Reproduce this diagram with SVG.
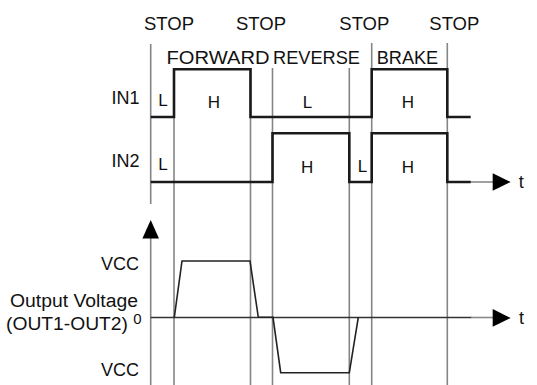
<svg xmlns="http://www.w3.org/2000/svg" width="537" height="385" viewBox="0 0 537 385">
<style>
text{font-family:"Liberation Sans",Arial,sans-serif;fill:#111}
.lbl{font-size:18px}
.lv{font-size:17px}
.grid{stroke:#858585;stroke-width:1.6;fill:none}
.sig{stroke:#1a1a1a;stroke-width:2.6;fill:none;stroke-linejoin:miter}
.out{stroke:#222;stroke-width:1.6;fill:none}
.axis{stroke:#333;stroke-width:1.4;fill:none}
.axisg{stroke:#8a8a8a;stroke-width:1.6;fill:none}
.head{fill:#000}
</style>
<rect width="537" height="385" fill="#fff"/>
<g id="grid">
<line class="grid" x1="150.7" y1="44" x2="150.7" y2="204"/>
<line class="grid" x1="174" y1="68" x2="174" y2="385"/>
<line class="grid" x1="250.5" y1="68" x2="250.5" y2="385"/>
<line class="grid" x1="272.5" y1="68" x2="272.5" y2="385"/>
<line class="grid" x1="349.3" y1="68" x2="349.3" y2="385"/>
<line class="grid" x1="371.7" y1="43" x2="371.7" y2="385"/>
<line class="grid" x1="447.3" y1="43" x2="447.3" y2="385"/>
</g>
<g id="labels-top">
<text class="lbl" x="144" y="29.5" textLength="50" lengthAdjust="spacingAndGlyphs">STOP</text>
<text class="lbl" x="236" y="29.5" textLength="50" lengthAdjust="spacingAndGlyphs">STOP</text>
<text class="lbl" x="339.3" y="29.5" textLength="50" lengthAdjust="spacingAndGlyphs">STOP</text>
<text class="lbl" x="429.3" y="29.5" textLength="50" lengthAdjust="spacingAndGlyphs">STOP</text>
<text class="lbl" x="166.5" y="63.5" font-size="19" textLength="103" lengthAdjust="spacingAndGlyphs">FORWARD</text>
<text class="lbl" x="273" y="63.5" font-size="19" textLength="87" lengthAdjust="spacingAndGlyphs">REVERSE</text>
<text class="lbl" x="376.7" y="63.5" font-size="19" textLength="61.5" lengthAdjust="spacingAndGlyphs">BRAKE</text>
</g>
<g id="in1">
<text class="lbl" x="139.5" y="104" text-anchor="end">IN1</text>
<path class="sig" d="M150.7,117 H174 V69.3 H250.5 V117 H371.7 V69.3 H447.3 V117 H470.7"/>
<text class="lv" x="158.3" y="106">L</text>
<text class="lv" x="207.7" y="108.3">H</text>
<text class="lv" x="302.7" y="108.3">L</text>
<text class="lv" x="401.7" y="108.3">H</text>
</g>
<g id="in2">
<text class="lbl" x="139.5" y="167.3" text-anchor="end">IN2</text>
<line class="axisg" x1="470" y1="182" x2="494" y2="182"/>
<polygon class="head" points="492.7,173.3 510.7,182 492.7,190.7"/>
<text class="lbl" x="518.7" y="188.3">t</text>
<path class="sig" d="M150.7,182 H272.5 V133.3 H349.3 V182 H371.7 V133.3 H447.3 V182 H470.7"/>
<text class="lv" x="158.3" y="170">L</text>
<text class="lv" x="301" y="172.7">H</text>
<text class="lv" x="357.7" y="172.3">L</text>
<text class="lv" x="401.7" y="172.7">H</text>
</g>
<g id="output">
<line class="grid" x1="150.7" y1="236" x2="150.7" y2="385"/>
<polygon class="head" points="142.4,238.5 150.7,220 159,238.5"/>
<line class="axis" x1="150.7" y1="317.5" x2="471.5" y2="317.5"/>
<line class="axisg" x1="471" y1="317.5" x2="494" y2="317.5"/>
<polygon class="head" points="492.7,309 510.7,318 492.7,326.7"/>
<text class="lbl" x="519" y="323.5">t</text>
<path class="out" d="M174.3,317.3 L182,261 H250 L258.3,317.3 H273 L280.7,372.7 H349.3 L358.3,317.3"/>
<text class="lbl" x="139" y="270" text-anchor="end">VCC</text>
<text class="lbl" x="138" y="307.3" text-anchor="end" textLength="128" lengthAdjust="spacingAndGlyphs">Output Voltage</text>
<text class="lbl" x="6" y="329.5" textLength="122" lengthAdjust="spacingAndGlyphs">(OUT1-OUT2)</text>
<text x="133.3" y="324.3" font-size="15">0</text>
<text class="lbl" x="139" y="376" text-anchor="end">VCC</text>
</g>
</svg>
